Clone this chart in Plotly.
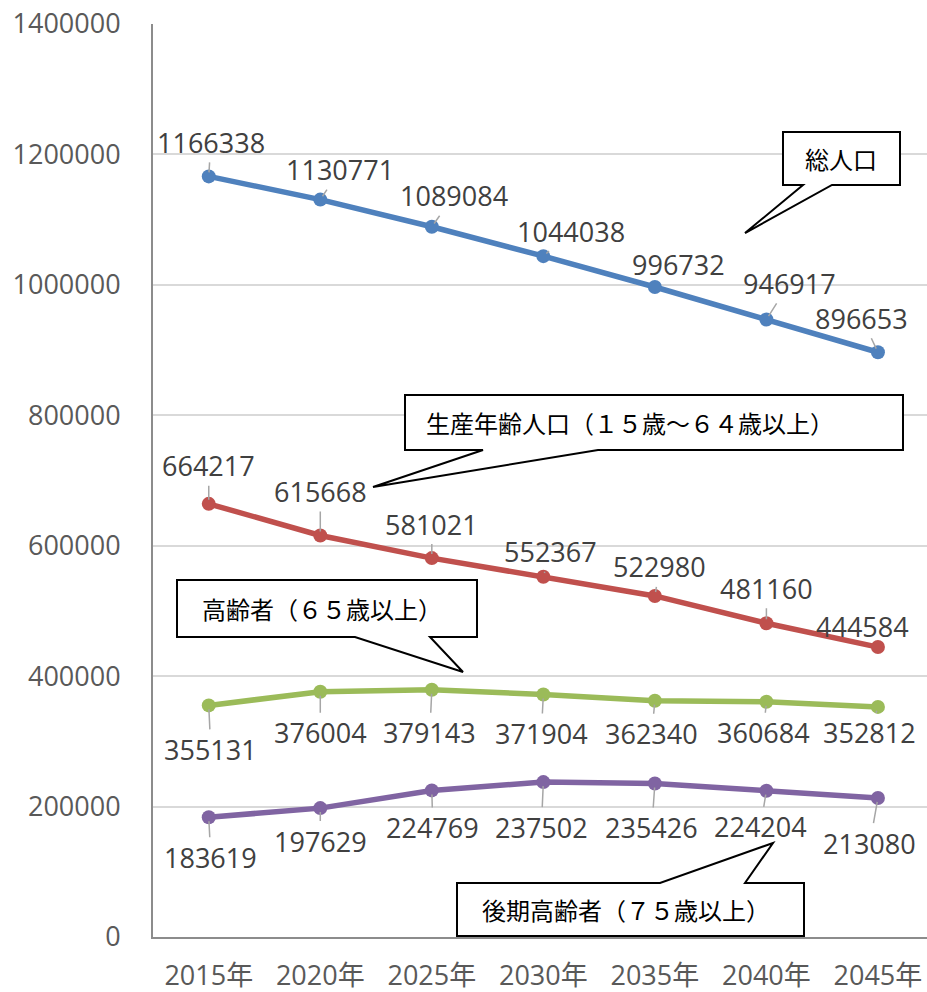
import plotly.graph_objects as go

years = ["2015年", "2020年", "2025年", "2030年", "2035年", "2040年", "2045年"]
total = [1166338, 1130771, 1089084, 1044038, 996732, 946917, 896653]
working = [664217, 615668, 581021, 552367, 522980, 481160, 444584]
elderly = [355131, 376004, 379143, 371904, 362340, 360684, 352812]
late_elderly = [183619, 197629, 224769, 237502, 235426, 224204, 213080]

series_names = ["総人口", "生産年齢人口（１５歳～６４歳以上）", "高齢者（６５歳以上）", "後期高齢者（７５歳以上）"]
colors = ["#4f81bd", "#c0504d", "#9bbb59", "#8064a2"]

# label offsets (pixels) relative to points
offsets = [
    [(2, -34), (20, -30), (22, -31), (28, -25), (24, -22), (23, -36), (-16, -34)],
    [(0, -38), (0, -44), (0, -34), (7, -25), (5, -29), (0, -35), (-15, -21)],
    [(2, 44), (0, 41), (-2, 43), (-2, 39), (-3, 33), (-3, 31), (-8, 26)],
    [(2, 40), (0, 33), (1, 37), (-2, 45), (-3, 44), (-6, 36), (-8, 45)],
]

W, H = 927, 992
L, R, T, B = 153, 0, 24, 55
PX0, PX1 = 153, 927
PY0, PY1 = 24, 937

NUM_FONT = "Open Sans, Noto Sans CJK JP, sans-serif"
CJK_FONT = "Noto Sans CJK JP, sans-serif"

fig = go.Figure()
data = [total, working, elderly, late_elderly]
for name, vals, col in zip(series_names, data, colors):
    fig.add_trace(go.Scatter(
        x=list(range(len(years))), y=vals, name=name, mode="lines+markers",
        line=dict(color=col, width=5.5), marker=dict(color=col, size=14),
        showlegend=False, hoverinfo="skip"))

annotations = []
for vals, offs in zip(data, offsets):
    for i, (v, (dx, dy)) in enumerate(zip(vals, offs)):
        annotations.append(dict(
            x=i, y=v, xref="x", yref="y", text=str(v), showarrow=True,
            ax=dx, ay=dy, arrowhead=0, arrowwidth=1.5, arrowcolor="#a6a6a6",
            standoff=4, startstandoff=0,
            font=dict(family=NUM_FONT, size=27, color="#404040")))


def px(x):
    return (x - PX0) / (PX1 - PX0)


def py(y):
    return (PY1 - y) / (PY1 - PY0)


def callout(x0, y0, x1, y1, side, b0, b1, tip):
    if side == "bottom":
        pts = [(x0, y0), (x1, y0), (x1, y1), (b1, y1), tip, (b0, y1), (x0, y1)]
    else:
        pts = [(x0, y0), (b0, y0), tip, (b1, y0), (x1, y0), (x1, y1), (x0, y1)]
    path = "M " + " L ".join(f"{px(a):.5f},{py(b):.5f}" for a, b in pts) + " Z"
    return dict(type="path", xref="paper", yref="paper", path=path,
                fillcolor="white", line=dict(color="black", width=2), layer="above")


# box (x0, y0, x1, y1), pointer side, pointer base, tip, text centre x
callouts = [
    (series_names[0], (783, 132, 900, 185, "bottom", 803, 832, (745, 233)), 841),
    (series_names[1], (405, 395, 903, 450, "bottom", 483, 598, (373, 487)), 630),
    (series_names[2], (177, 580, 477, 637, "bottom", 355, 430, (463, 672)), 322),
    (series_names[3], (457, 883, 804, 936, "top", 660, 745, (773, 843)), 626),
]
shapes = []
for text, (x0, y0, x1, y1, side, b0, b1, tip), tx in callouts:
    shapes.append(callout(x0, y0, x1, y1, side, b0, b1, tip))
    annotations.append(dict(
        x=px(tx), y=py((y0 + y1) / 2), xref="paper", yref="paper",
        xanchor="center", yanchor="middle",
        text=text, showarrow=False,
        font=dict(family=CJK_FONT, size=24, color="black")))

fig.update_layout(
    width=W, height=H, margin=dict(l=L, r=R, t=T, b=B, pad=0),
    plot_bgcolor="white", paper_bgcolor="white",
    shapes=shapes, annotations=annotations,
    font=dict(family=NUM_FONT),
    xaxis=dict(
        tickmode="array", tickvals=list(range(len(years))), ticktext=years,
        range=[-0.5, 6.44], showgrid=False, zeroline=False, automargin=False,
        showline=True, linecolor="#8c8c8c", linewidth=2, ticks="",
        ticklabelstandoff=14,
        tickfont=dict(family=NUM_FONT, size=27, color="#595959")),
    yaxis=dict(
        range=[0, 1400000], dtick=200000, tickformat="d", automargin=False,
        showgrid=True, gridcolor="#d9d9d9", gridwidth=2, zeroline=False,
        showline=True, linecolor="#8c8c8c", linewidth=2, ticks="",
        ticklabelstandoff=25,
        tickfont=dict(family=NUM_FONT, size=27, color="#595959")),
)

fig.write_html("out.html")
